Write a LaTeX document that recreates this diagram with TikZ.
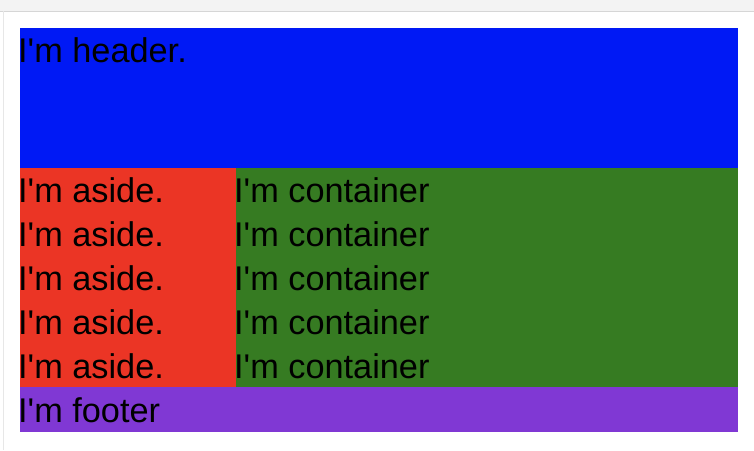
\documentclass[tikz,border=0pt]{standalone}
\usepackage{fontspec}
\setmainfont{Liberation Sans}
\usepackage{tikz}

\definecolor{headerblue}{RGB}{0,25,245}
\definecolor{asidered}{RGB}{235,53,37}
\definecolor{maingreen}{RGB}{54,123,34}
\definecolor{footerpurple}{RGB}{128,56,212}
\definecolor{bargray}{RGB}{243,243,243}
\definecolor{edgegray}{RGB}{214,214,214}

\tikzset{
  block/.style={inner sep=0pt, outer sep=0pt, anchor=north west},
  txt/.style={inner sep=0pt, anchor=base west, font=\fontsize{34.3}{44}\selectfont},
}

\begin{document}
\begin{tikzpicture}[x=1pt,y=-1pt]
\useasboundingbox (0,0) rectangle (754,450);
\fill[white] (0,0) rectangle (754,450);
% window frame
\fill[bargray] (0,0) rectangle (754,11);
\draw[edgegray] (0,11) -- (754,11);
\draw[edgegray!60] (3.5,11) -- (3.5,450);

% page blocks
\node[block, fill=headerblue, minimum width=718pt, minimum height=140pt] (header) at (20,28) {};
\node[block, fill=asidered, minimum width=216pt, minimum height=219pt] (aside) at (20,168) {};
\node[block, fill=maingreen, minimum width=502pt, minimum height=219pt] (container) at (236,168) {};
\node[block, fill=footerpurple, minimum width=718pt, minimum height=45pt] (footer) at (20,387) {};

% texts
\node[txt] (headertext) at (18,62) {I\textquotesingle m header.};
\foreach \i in {0,...,4} {
  \node[txt] (asidetext\i) at (18,202+44*\i) {I\textquotesingle m aside.};
  \node[txt] (containertext\i) at (234,202+44*\i) {I\textquotesingle m container};
}
\node[txt] (footertext) at (18,422) {I\textquotesingle m footer};

\end{tikzpicture}
\end{document}
